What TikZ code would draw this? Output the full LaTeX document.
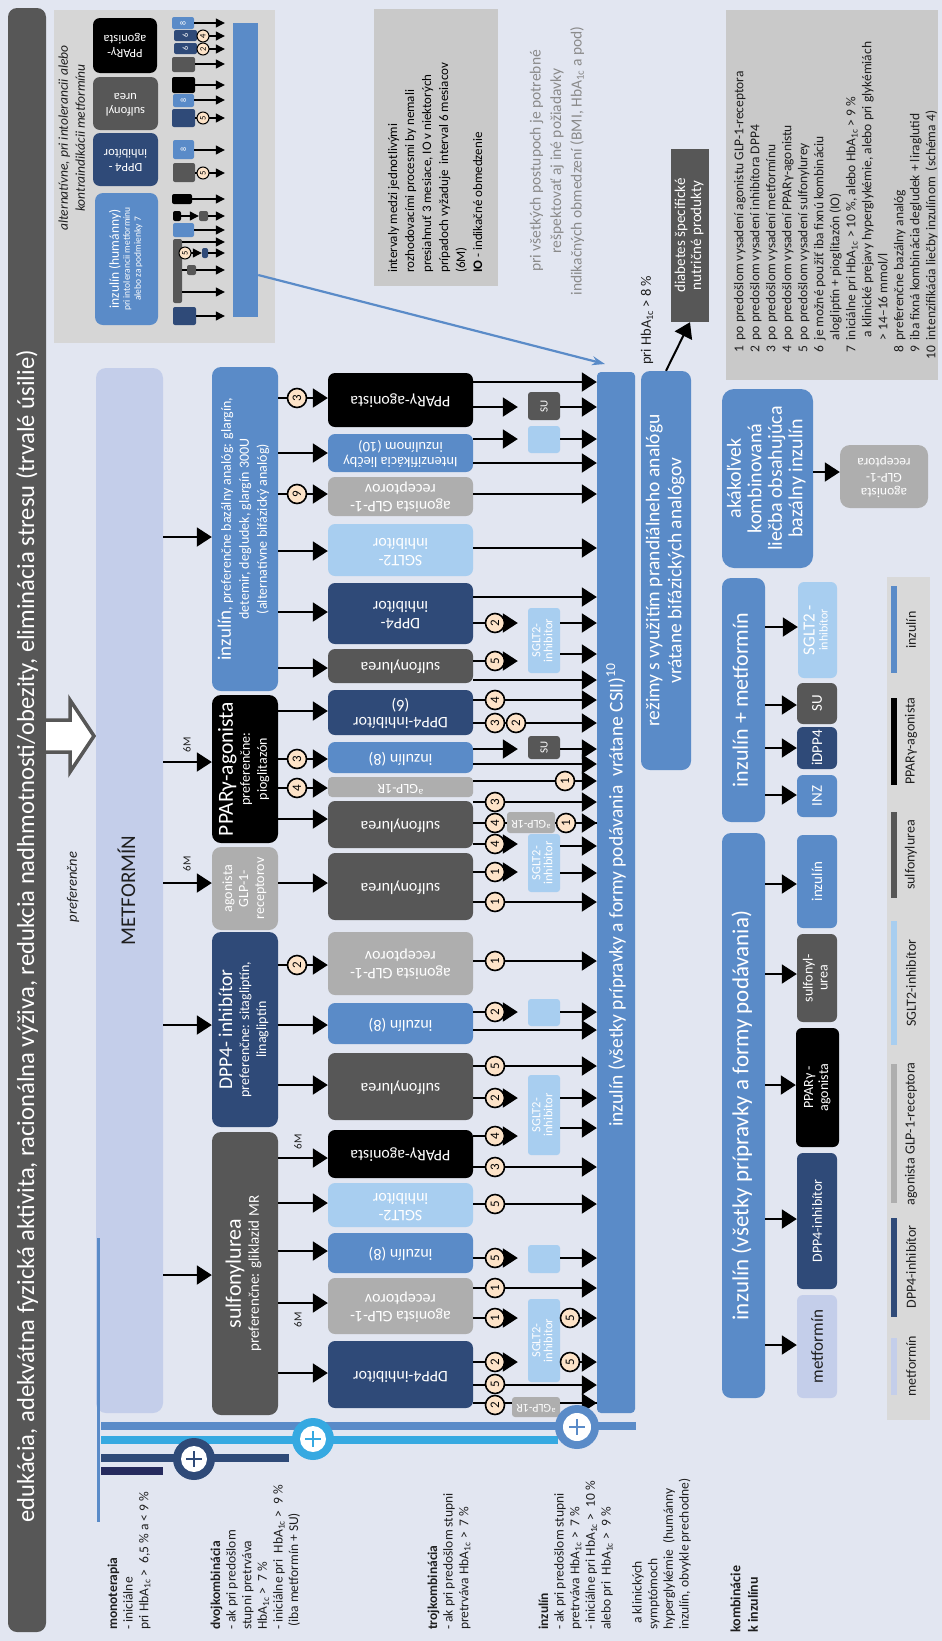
\documentclass[tikz,border=0pt]{standalone}
\usepackage{fontspec}
\setmainfont{Carlito}
\usepackage{graphicx}
\usetikzlibrary{arrows.meta}
\definecolor{bg}{HTML}{E2E6F1}
\definecolor{dgray}{HTML}{575757}
\definecolor{navy}{HTML}{2F4A78}
\definecolor{mblue}{HTML}{5A8BC8}
\definecolor{lblue}{HTML}{A8CEF0}
\definecolor{lgray}{HTML}{AEAEAE}
\definecolor{lav}{HTML}{C4CEEA}
\definecolor{cyanb}{HTML}{36A9E1}
\definecolor{indigo}{HTML}{262B5E}
\definecolor{peach}{HTML}{FDE3C8}
\definecolor{altgray}{HTML}{D6D6D6}
\definecolor{notegray}{HTML}{C9C9C9}
\definecolor{leggray}{HTML}{D9D9D9}
\definecolor{txtgray}{HTML}{8A8A8A}
\definecolor{ink}{HTML}{1E1E1E}
\newcommand\FS[2]{\fontsize{#1}{#2}\selectfont}
\newcommand\RT[1]{\rotatebox{90}{\begin{tabular}{@{}c@{}}#1\end{tabular}}}
\newcommand\RR[1]{\rotatebox{180}{\begin{tabular}{@{}c@{}}#1\end{tabular}}}
\newcommand\RL[1]{\rotatebox{90}{\begin{tabular}{@{}l@{}}#1\end{tabular}}}
\newcommand\HbA{HbA\textsubscript{1c}}
\newcommand\Bx[5]{\BxI{#1}{#2}{#5}#3\relax#4\relax}
\def\BxI#1#2#3#4,#5\relax#6,#7\relax{\node[#2, minimum width={(#6-#4)*1pt}, minimum height={(#7-#5)*1pt}] (#1) at ({(#4+#6)/2},{(#5+#7)/2}) {#3};}
\newcommand\Ar[4][]{\draw[arr,#1] (#2.east |- 0,#4) -- (#3.west |- 0,#4);}
\newcommand\Sa[4][]{\draw[sarr,#1] (#2.east |- 0,#4) -- (#3.west |- 0,#4);}
\newcommand\Nm[3]{\node[num] (#1) at (#2) {\rotatebox{90}{#3}};}
\newcommand\Ns[3]{\node[snum] (#1) at (#2) {\rotatebox{90}{#3}};}
\begin{document}
\begin{tikzpicture}[x=1pt,y=-1pt,
  bx/.style={inner sep=0pt, rounded corners=7pt, text=white},
  pl/.style={inner sep=0pt},
  arr/.style={line width=2pt, -{Triangle[length=15pt,width=19pt]}},
  ln/.style={line width=2pt},
  sarr/.style={line width=1.2pt, -{Triangle[length=9pt,width=9pt]}, shorten >=8pt},
  sln/.style={line width=1.2pt},
  num/.style={circle, draw=black, line width=1.6pt, fill=peach, inner sep=0pt, minimum size=19pt, font=\FS{13}{13}},
  snum/.style={circle, draw=black, line width=1pt, fill=peach, inner sep=0pt, minimum size=12pt, font=\FS{8.5}{8.5}},
  sb/.style={inner sep=0pt, rounded corners=2pt, text=white, font=\FS{8}{8}},
  t3/.style={bx, font=\FS{16}{17}},
  s4/.style={bx, rounded corners=3pt, font=\FS{12.5}{11}},
  lgt/.style={text=ink, inner sep=0pt, font=\FS{14}{14}},
  bl/.style={anchor=south west, inner sep=0pt, text=ink, font=\FS{13.5}{15.6}}]
\fill[fill=bg] (0,0) rectangle (942,1641);
\useasboundingbox (0,0) rectangle (942,1641);

% left bar
\Bx{edu}{bx,fill=dgray,rounded corners=9pt}{8,8}{46,1632}{}
\node[anchor=south,text=white,inner sep=0pt,font=\FS{24.6}{25}] (edut) at (27,1523) {\rotatebox{90}{edukácia, adekvátna fyzická aktivita, racionálna výživa, redukcia nadhmotnosti/obezity, eliminácia stresu (trvalé úsilie)}};
\draw[line width=3.5pt, draw=dgray, fill=white, line join=miter] (44,720) -- (70,720) -- (70,700) -- (94,736) -- (70,772) -- (70,752) -- (44,752) -- cycle;
\node[text=ink,inner sep=0pt,font=\itshape\FS{14.5}{14.5}] (pref) at (73,887) {\rotatebox{90}{preferenčne}};

% alternative box
\Bx{alt}{pl,fill=altgray}{54,10}{275,343}{}
\node[text=ink,inner sep=0pt,font=\itshape\FS{13.5}{17}] (altt) at (73,138) {\RT{alternatívne, pri intolerancii alebo\\kontraindikácii metformínu}};
\Bx{aIns}{bx,fill=mblue,rounded corners=8pt,font=\FS{9.5}{11}}{95,193}{158,325}{\RT{{\FS{13.5}{15}inzulín (humánny)}\\pri intolerancii metformínu\\alebo za podmienky 7}}
\Bx{aDpp}{bx,fill=navy,font=\FS{12.5}{14}}{93,133}{158,186}{\RR{DPP4 -\\inhibítor}}
\Bx{aSu}{bx,fill=dgray,font=\FS{12.5}{14}}{93,77}{158,130}{\RR{sulfonyl\\urea}}
\Bx{aPp}{bx,fill=black,font=\FS{12.5}{14}}{93,18}{157,73}{\RR{PPARγ-\\agonista}}
\Bx{aBar}{pl,fill=mblue}{233,23}{258,317}{}
\Bx{s1}{sb,fill=mblue}{172,17}{194,29}{\rotatebox{90}{8}}
\Bx{s2}{sb,fill=navy}{174,30}{197,41}{\rotatebox{90}{6}}
\Bx{s3}{sb,fill=navy}{174,43}{197,54}{\rotatebox{90}{6}}
\Bx{s4}{sb,fill=dgray}{172,57}{195,72}{}
\Bx{s5}{sb,fill=black}{172,77}{195,93}{}
\Bx{s6}{sb,fill=mblue}{173,94}{194,107}{\rotatebox{90}{8}}
\Bx{s7}{sb,fill=navy}{172,109}{195,127}{}
\Bx{s8}{sb,fill=mblue}{173,140}{194,159}{\rotatebox{90}{8}}
\Bx{s9}{sb,fill=dgray}{173,163}{195,182}{}
\Bx{s10}{sb,fill=black}{172,194}{192,204}{}
\Bx{s11}{sb,fill=black}{173,211}{181,221}{}
\Bx{s12}{sb,fill=dgray}{199,211}{208,221}{}
\Bx{s13}{sb,fill=mblue}{173,223}{194,237}{}
\Bx{s14}{sb,fill=dgray}{173,239}{182,303}{}
\Bx{s15}{sb,fill=navy}{202,248}{208,258}{}
\Bx{s16}{sb,fill=dgray}{187,265}{196,275}{}
\Bx{s17}{sb,fill=navy}{173,307}{196,325}{}
\Sa{s1}{aBar}{23}
\Sa{s2}{aBar}{36}
\Sa{s3}{aBar}{49}
\Sa{s4}{aBar}{64}
\Sa{s5}{aBar}{85}
\Sa{s6}{aBar}{100}
\Sa{s7}{aBar}{118}
\Sa{s8}{aBar}{150}
\Sa{s9}{aBar}{173}
\Sa{s10}{aBar}{199}
\Sa[shorten >=0pt]{s11}{s12}{216}
\Sa{s12}{aBar}{216}
\Sa{s13}{aBar}{230}
\Sa{s14}{aBar}{242}
\Sa[shorten >=0pt]{s14}{s15}{253}
\Sa{s15}{aBar}{253}
\draw[sln] (s14.east |- 0,270) -- (s16.west |- 0,270);
\Sa{s16}{aBar}{270}
\Sa{s14}{aBar}{292}
\Sa{s17}{aBar}{316}
\Ns{ca1}{203,36}{4}
\Ns{ca2}{203,49}{2}
\Ns{ca3}{203,118}{5}
\Ns{ca4}{203,173}{5}
\Ns{ca5}{185,253}{5}

% notes
\Bx{notes}{pl,fill=notegray}{374,9}{498,286}{}
\node[anchor=south west,inner sep=0pt,text=black,font=\FS{13}{17}] (notest) at (385,273) {\RL{intervaly medzi jednotlivými\\rozhodovacími procesmi by nemali\\presiahnuť 3 mesiace, IO v niektorých\\prípadoch vyžaduje\ \ interval 6 mesiacov\\(6M)\\\textbf{IO} - indikačné obmedzenie}};
\node[text=txtgray,inner sep=0pt,font=\FS{15.5}{20.5}] (grayt) at (557,161) {\RT{pri všetkých postupoch je potrebné\\rešpektovať aj iné požiadavky\\indikačných obmedzení (BMI, \HbA{} a pod)}};

% METFORMIN and level 2
\Bx{met}{bx,fill=lav,rounded corners=10pt,text=ink,font=\FS{21}{21}}{96,368}{163,1413}{\RT{METFORMÍN}}
\Bx{Lins}{bx,fill=mblue,rounded corners=9pt,font=\FS{14}{18}}{212,367}{278,691}{\RT{{\FS{19}{20}inzulín}, preferenčne bazálny analóg: glargín,\\detemir, degludek, glargín 300U\\(alternatívne bifázický analóg)}}
\Bx{Lpp}{bx,fill=black,rounded corners=9pt,font=\FS{14}{17}}{212,695}{278,843}{\RT{{\FS{21.5}{22}PPARγ-agonista}\\preferenčne:\\pioglitazón}}
\Bx{Lgl}{bx,fill=lgray,rounded corners=9pt,font=\FS{14}{16}}{212,847}{278,930}{\RT{agonista\\GLP-1-\\receptorov}}
\Bx{Ldp}{bx,fill=navy,rounded corners=9pt,font=\FS{14}{17}}{212,932}{278,1127}{\RT{{\FS{19.5}{20}DPP4- inhibítor}\\preferenčne: sitagliptín,\\linagliptín}}
\Bx{Lsu}{bx,fill=dgray,rounded corners=9pt,font=\FS{15}{18}}{212,1132}{278,1415}{\RT{{\FS{22}{23}sulfonylurea}\\preferenčne: gliklazid MR}}
\Ar{met}{Lins}{537}
\Ar{met}{Lpp}{762}
\Ar{met}{Lgl}{883}
\Ar{met}{Ldp}{1025}
\Ar{met}{Lsu}{1275}
\node[inner sep=0pt,text=ink,font=\FS{11}{11}] (m6a) at (187,745) {\rotatebox{90}{6M}};
\node[inner sep=0pt,text=ink,font=\FS{11}{11}] (m6b) at (187,864) {\rotatebox{90}{6M}};
\node[inner sep=0pt,text=ink,font=\FS{11}{11}] (m6c) at (298,1142) {\rotatebox{90}{6M}};
\node[inner sep=0pt,text=ink,font=\FS{11}{11}] (m6d) at (298,1320) {\rotatebox{90}{6M}};

% level 3
\Bx{Tpp1}{t3,fill=black}{328,373}{473,427}{\RR{PPARγ-agonista}}
\Bx{Tint}{t3,fill=mblue,font=\FS{14.5}{15}}{328,434}{473,472}{\RR{Intenzifikácia liečby\\inzulínom (10)}}
\Bx{Tgl1}{t3,fill=lgray}{328,477}{473,516}{\RR{agonista GLP-1-\\receptorov}}
\Bx{Tsg1}{t3,fill=lblue}{328,524}{473,576}{\RR{SGLT2-\\inhibítor}}
\Bx{Tdp1}{t3,fill=navy}{328,583}{473,644}{\RR{DPP4-\\inhibítor}}
\Bx{Tsu1}{t3,fill=dgray}{328,649}{473,683}{\RR{sulfonylurea}}
\Bx{Tdp2}{t3,fill=navy}{328,690}{473,735}{\RR{DPP4-inhibítor\\(6)}}
\Bx{Tin1}{t3,fill=mblue}{328,742}{473,773}{\RR{inzulín (8)}}
\Bx{Tgl2}{t3,fill=lgray,rounded corners=4pt,font=\FS{14}{14}}{328,777}{473,797}{\RR{\textsuperscript{a}GLP-1R}}
\Bx{Tsu2}{t3,fill=dgray}{328,801}{473,848}{\RR{sulfonylurea}}
\Bx{Tsu3}{t3,fill=dgray}{328,853}{473,920}{\RR{sulfonylurea}}
\Bx{Tgl3}{t3,fill=lgray}{328,932}{473,995}{\RR{agonista GLP-1-\\receptorov}}
\Bx{Tin2}{t3,fill=mblue}{328,1003}{473,1044}{\RR{inzulín (8)}}
\Bx{Tsu4}{t3,fill=dgray}{328,1053}{473,1120}{\RR{sulfonylurea}}
\Bx{Tpp2}{t3,fill=black}{328,1130}{473,1178}{\RR{PPARγ-agonista}}
\Bx{Tsg2}{t3,fill=lblue}{328,1183}{473,1227}{\RR{SGLT2-\\inhibítor}}
\Bx{Tin3}{t3,fill=mblue}{328,1233}{473,1273}{\RR{inzulín (8)}}
\Bx{Tgl4}{t3,fill=lgray}{328,1278}{473,1334}{\RR{agonista GLP-1-\\receptorov}}
\Bx{Tdp3}{t3,fill=navy}{328,1341}{473,1408}{\RR{DPP4-inhibítor}}
\Ar{Lins}{Tpp1}{398}
\Ar{Lins}{Tint}{453}
\Ar{Lins}{Tgl1}{494}
\Ar{Lins}{Tsg1}{551}
\Ar{Lins}{Tdp1}{612}
\Ar{Lins}{Tsu1}{668}
\Ar{Lpp}{Tdp2}{711}
\Ar{Lpp}{Tin1}{759}
\Ar{Lpp}{Tgl2}{788}
\Ar{Lpp}{Tsu2}{819}
\Ar{Lgl}{Tsu3}{883}
\Ar{Ldp}{Tgl3}{965}
\Ar{Ldp}{Tin2}{1025}
\Ar{Ldp}{Tsu4}{1085}
\Ar{Lsu}{Tpp2}{1158}
\Ar{Lsu}{Tsg2}{1203}
\Ar{Lsu}{Tin3}{1251}
\Ar{Lsu}{Tgl4}{1303}
\Ar{Lsu}{Tdp3}{1373}

% main insulin bar
\Bx{M}{pl,fill=mblue,rounded corners=4pt}{597,372}{635,1413}{}
\node[anchor=south,text=white,inner sep=0pt,font=\FS{19.5}{20}] (Mt) at (616,1127) {\rotatebox{90}{inzulín (všetky prípravky a formy podávania\ \ vrátane CSII)\textsuperscript{10}}};

% level 4
\Bx{SU1}{s4,fill=dgray,font=\FS{11}{11}}{528,392}{560,420}{\rotatebox{90}{SU}}
\Bx{LB1}{s4,fill=lblue}{528,426}{560,453}{}
\Bx{SG1}{s4,fill=lblue}{528,608}{560,673}{\RT{SGLT2-\\inhibitor}}
\Bx{SU2}{s4,fill=dgray,font=\FS{11}{11}}{528,736}{560,759}{\rotatebox{90}{SU}}
\Bx{SG2}{s4,fill=lblue}{528,834}{560,892}{\RT{SGLT2-\\inhibitor}}
\Bx{LB2}{s4,fill=lblue}{528,999}{560,1026}{}
\Bx{SG3}{s4,fill=lblue}{528,1075}{560,1155}{\RT{SGLT2-\\inhibitor}}
\Bx{LB3}{s4,fill=lblue}{528,1245}{560,1273}{}
\Bx{SG4}{s4,fill=lblue}{528,1299}{560,1382}{\RT{SGLT2-\\inhibitor}}

\Ar{Tpp1}{M}{382}
\Ar[shorten >=10pt]{Tpp1}{SU1}{407}
\Ar{SU1}{M}{407}
\Ar[shorten >=10pt]{Tint}{LB1}{439}
\Ar{LB1}{M}{439}
\Ar{Tint}{M}{463}
\Ar{Tgl1}{M}{494}
\Ar{Tsg1}{M}{548}
\Ar{Tdp1}{M}{597}
\Ar[shorten >=10pt]{Tdp1}{SG1}{623}
\Ar{SG1}{M}{623}
\Ar{SG1}{M}{654}
\Ar[shorten >=10pt]{Tsu1}{SG1}{661}
\Ar{Tsu1}{M}{680}
\Ar{Tdp2}{M}{700}
\Ar{Tdp2}{M}{723}
\Ar[shorten >=10pt]{Tin1}{SU2}{749}
\Ar{SU2}{M}{749}
\Ar{Tin1}{M}{764}
\Ar{Tgl2}{M}{781}
\Ar{Tsu2}{M}{802}
\draw[ln] (Tsu2.east |- 0,823) -- (M.west |- 0,823);
\Bx{AG1}{s4,fill=lgray,font=\FS{12}{12}}{507,812}{555,833}{\RR{\textsuperscript{a}GLP-1R}}
\Ar{AG1}{M}{823}
\Ar[shorten >=10pt]{Tsu2}{SG2}{844}
\Ar{SG2}{M}{846}
\Ar{SG2}{M}{873}
\Ar[shorten >=10pt]{Tsu3}{SG2}{872}
\Ar{Tsu3}{M}{902}
\Ar{Tgl3}{M}{961}
\Ar[shorten >=10pt]{Tin2}{LB2}{1012}
\Ar{LB2}{M}{1012}
\Ar{Tin2}{M}{1030}
\Ar{Tsu4}{M}{1066}
\Ar[shorten >=10pt]{Tsu4}{SG3}{1098}
\Ar{SG3}{M}{1098}
\Ar{SG3}{M}{1128}
\Ar[shorten >=10pt]{Tpp2}{SG3}{1136}
\Ar{Tpp2}{M}{1167}
\Ar{Tsg2}{M}{1204}
\Ar[shorten >=10pt]{Tin3}{LB3}{1258}
\Ar{LB3}{M}{1258}
\Ar{Tgl4}{M}{1288}
\Ar[shorten >=10pt]{Tgl4}{SG4}{1318}
\Ar{SG4}{M}{1318}
\Ar{SG4}{M}{1362}
\Ar[shorten >=10pt]{Tdp3}{SG4}{1362}
\Ar{Tdp3}{M}{1385}
\draw[ln] (Tdp3.east |- 0,1403) -- (M.west |- 0,1403);
\Bx{AG2}{s4,fill=lgray,font=\FS{12}{12}}{512,1397}{560,1417}{\RR{\textsuperscript{a}GLP-1R}}
\Ar{AG2}{M}{1403}

% circles
\Nm{n1}{297,398}{3}
\Nm{n2}{297,494}{9}
\Nm{n3}{297,759}{3}
\Nm{n4}{297,788}{4}
\Nm{n5}{297,965}{2}
\Nm{n6}{495,623}{2}
\Nm{n7}{495,661}{5}
\Nm{n8}{495,700}{4}
\Nm{n9}{495,723}{3}
\Nm{n10}{516,723}{2}
\Nm{n11}{565,781}{1}
\Nm{n12}{495,802}{3}
\Nm{n13}{495,823}{4}
\Nm{n14}{566,823}{1}
\Nm{n15}{495,844}{4}
\Nm{n16}{495,872}{1}
\Nm{n17}{495,902}{1}
\Nm{n18}{495,961}{1}
\Nm{n19}{495,1012}{2}
\Nm{n20}{495,1066}{5}
\Nm{n21}{495,1098}{2}
\Nm{n22}{495,1136}{4}
\Nm{n23}{495,1167}{3}
\Nm{n24}{495,1204}{5}
\Nm{n25}{495,1258}{5}
\Nm{n26}{495,1288}{1}
\Nm{n27}{495,1318}{1}
\Nm{n28}{570,1318}{5}
\Nm{n29}{570,1362}{5}
\Nm{n30}{495,1362}{2}
\Nm{n31}{495,1384}{5}
\Nm{n32}{495,1405}{2}

% blue arrow from alternative box
\coordinate (mtip) at (605,364);
\draw[line width=2.2pt, draw=mblue, -{Stealth[length=13pt,width=9pt]}] (aBar.east |- 0,275) -- (mtip);

% right column
\Bx{rez}{bx,fill=mblue,rounded corners=9pt,font=\FS{19.5}{22}}{641,371}{691,770}{\RT{režimy s využitím prandiálneho analógu\\vrátane bifázických analógov}}
\Bx{dia}{pl,fill=dgray,text=white,font=\FS{15}{16}}{671,149}{709,322}{\RT{diabetes špecifické\\nutričné produkty}}
\draw[arr] (rez.north) -- (dia.south);
\node[anchor=south,inner sep=0pt,text=ink,font=\FS{14.5}{15}] (hba8) at (647,365) {\rotatebox{90}{pri \HbA{} > 8 \%}};

\Bx{leg}{pl,fill=notegray}{726,10}{938,380}{}
\node[anchor=south west,inner sep=0pt,text=ink,font=\FS{13.5}{16}] (legt) at (732,360) {\rotatebox{90}{\begin{tabular}{@{}r@{\hspace{6pt}}l@{}}
1 & po predošlom vysadení agonistu GLP-1-receptora\\
2 & po predošlom vysadení inhibítora DPP4\\
3 & po predošlom vysadení metformínu\\
4 & po predošlom vysadení PPARγ-agonistu\\
5 & po predošlom vysadení sulfonylurey\\
6 & je možné použiť iba fixnú kombináciu\\
  & alogliptín + pioglitazón (IO)\\
7 & iniciálne pri \HbA{} > 10 \%, alebo \HbA{} > 9 \%\\
  & \ a klinické prejavy hyperglykémie, alebo pri glykémiách\\
  & > 14–16 mmol/l\\
8 & preferenčne bazálny analóg\\
9 & iba fixná kombinácia degludek + liraglutid\\
10 & intenzifikácia liečby inzulínom\ \ (schéma 4)
\end{tabular}}};

\Bx{aka}{bx,fill=mblue,rounded corners=12pt,font=\FS{20}{20.5}}{722,389}{813,568}{\RT{akákoľvek\\kombinovaná\\liečba obsahujúca\\bazálny inzulín}}
\Bx{akaG}{bx,fill=lgray,rounded corners=10pt,font=\FS{13.5}{15}}{840,445}{928,508}{\RR{agonista\\GLP-1-\\receptora}}
\Ar{aka}{akaG}{472}

\Bx{im}{bx,fill=mblue,rounded corners=9pt,font=\FS{22}{22}}{722,578}{765,822}{\RT{inzulín + metformín}}
\Bx{imS}{bx,fill=lblue,rounded corners=6pt,font=\FS{12}{13}}{798,582}{837,678}{\RT{{\FS{17}{17}SGLT2 -}\\inhibítor}}
\Bx{imSU}{bx,fill=dgray,rounded corners=6pt,font=\FS{15}{15}}{797,683}{837,724}{\rotatebox{90}{SU}}
\Bx{imD}{bx,fill=navy,rounded corners=6pt,font=\FS{15}{15}}{797,727}{837,769}{\rotatebox{90}{iDPP4}}
\Bx{imI}{bx,fill=mblue,rounded corners=6pt,font=\FS{15}{15}}{797,775}{837,817}{\rotatebox{90}{INZ}}
\Ar{im}{imS}{627}
\Ar{im}{imSU}{705}
\Ar{im}{imD}{748}
\Ar{im}{imI}{795}

\Bx{ia}{bx,fill=mblue,rounded corners=9pt,font=\FS{23}{23}}{722,833}{765,1398}{\RT{inzulín (všetky prípravky a formy podávania)}}
\Bx{iaI}{bx,fill=mblue,rounded corners=6pt,font=\FS{15}{15}}{797,835}{837,928}{\rotatebox{90}{inzulín}}
\Bx{iaS}{bx,fill=dgray,rounded corners=6pt,font=\FS{14}{15}}{797,934}{837,1022}{\RT{sulfonyl-\\urea}}
\Bx{iaP}{bx,fill=black,rounded corners=6pt,font=\FS{14}{15}}{796,1028}{839,1147}{\RT{PPARγ -\\agonista}}
\Bx{iaD}{bx,fill=navy,rounded corners=6pt,font=\FS{14}{15}}{797,1153}{837,1289}{\rotatebox{90}{DPP4-inhibítor}}
\Bx{iaM}{bx,fill=lav,text=ink,rounded corners=6pt,font=\FS{17}{17}}{797,1295}{837,1398}{\rotatebox{90}{metformín}}
\Ar{ia}{iaI}{884}
\Ar{ia}{iaS}{974}
\Ar{ia}{iaP}{1085}
\Ar{ia}{iaD}{1219}
\Ar{ia}{iaM}{1345}

% colour legend
\Bx{lg}{pl,fill=leggray}{887,577}{930,1420}{}
\Bx{lb1}{pl,fill=mblue}{891,586}{897,673}{}
\Bx{lb2}{pl,fill=black}{891,698}{897,785}{}
\Bx{lb3}{pl,fill=dgray}{891,812}{897,898}{}
\Bx{lb4}{pl,fill=lblue}{891,921}{897,1045}{}
\Bx{lb5}{pl,fill=lgray}{891,1064}{897,1203}{}
\Bx{lb6}{pl,fill=navy}{891,1218}{897,1317}{}
\Bx{lb7}{pl,fill=lav}{891,1338}{897,1395}{}
\node[lgt] (lt1) at (911,630) {\rotatebox{90}{inzulín}};
\node[lgt] (lt2) at (911,741) {\rotatebox{90}{PPARγ-agonista}};
\node[lgt] (lt3) at (911,855) {\rotatebox{90}{sulfonylurea}};
\node[lgt] (lt4) at (911,983) {\rotatebox{90}{SGLT2-inhibítor}};
\node[lgt] (lt5) at (911,1134) {\rotatebox{90}{agonista GLP-1-receptora}};
\node[lgt] (lt6) at (911,1267) {\rotatebox{90}{DPP4-inhibítor}};
\node[lgt] (lt7) at (911,1366) {\rotatebox{90}{metformín}};

% bottom bands
\draw[mblue, line width=3pt] (98,1238) -- (98,1522);
\fill[fill=mblue] (101,1422) rectangle (636,1430);
\fill[fill=cyanb] (101,1436) rectangle (558,1444);
\fill[fill=navy] (101,1454) rectangle (289,1462);
\fill[fill=indigo] (101,1467) rectangle (163,1475);
\fill[fill=navy] (194,1459) circle (21pt);
\fill[fill=white] (194,1459) circle (13pt);
\draw[navy,line width=2.6pt] (186,1459) -- (202,1459) (194,1451) -- (194,1467);
\fill[fill=cyanb] (313,1439) circle (21pt);
\fill[fill=white] (313,1439) circle (13pt);
\draw[cyanb,line width=2.6pt] (305,1439) -- (321,1439) (313,1431) -- (313,1447);
\fill[fill=mblue] (577,1427) circle (22pt);
\fill[fill=white] (577,1427) circle (14pt);
\draw[mblue,line width=2.6pt] (569,1427) -- (585,1427) (577,1419) -- (577,1435);

% bottom labels
\node[bl] (bl1) at (106,1630) {\RL{\textbf{monoterapia}\\- iniciálne\\pri \HbA{} >\ \ 6,5 \% a < 9 \%}};
\node[bl] (bl2) at (209,1630) {\RL{\textbf{dvojkombinácia}\\- ak pri predošlom\\stupni pretrváva\\\HbA{} >\ \ 7 \%\\- iniciálne pri\ \ \HbA{} >\ \ 9 \%\\\ (iba metformín + SU)}};
\node[bl] (bl3) at (426,1630) {\RL{\textbf{trojkombinácia}\\- ak pri predošlom stupni\\pretrváva \HbA{} >\ \ 7 \%}};
\node[bl] (bl4) at (537,1630) {\RL{\textbf{inzulín}\\- ak pri predošlom stupni\\pretrváva \HbA{} >\ \ 7 \%\\- iniciálne pri \HbA{} >\ \ 10 \%\\alebo pri\ \ \HbA{} >\ \ 9 \%\\ \\\ \ a klinických\\symptómoch\\hyperglykémie\ \ (humánny\\inzulín, obvykle prechodne)}};
\node[bl,font=\bfseries\FS{14}{17.5}] (bl5) at (728,1633) {\RL{kombinácie\\k inzulínu}};
\end{tikzpicture}
\end{document}
